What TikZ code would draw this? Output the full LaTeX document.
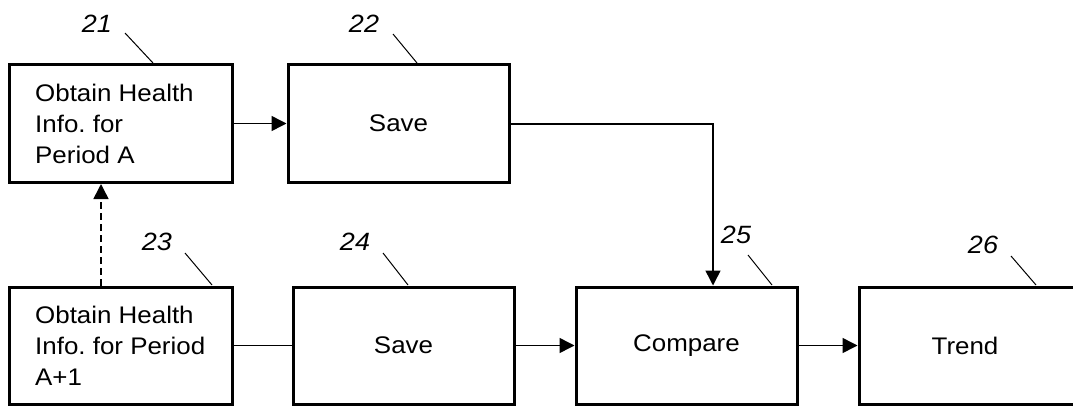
\documentclass[tikz,border=0pt]{standalone}
\usepackage{fontspec}
\setmainfont{Liberation Sans}[FakeStretch=1.08]
\usetikzlibrary{arrows.meta}
\frenchspacing
\begin{document}
\begin{tikzpicture}[x=1pt,y=-1pt,
  txt/.style={font=\fontsize{24}{31}\selectfont,inner sep=0pt},
  boxnode/.style={draw,line width=3pt,inner sep=0pt,minimum height=118pt,txt},
  blocktext/.style={txt,anchor=west,align=left},
  numlabel/.style={font=\fontsize{25}{25}\selectfont\itshape,inner sep=0pt},
  leader/.style={line width=1pt},
  conn/.style={line width=1.5pt},
  arr/.style={conn,-{Triangle[length=15pt,width=15pt]}}]
\clip (0,0) rectangle (1073,407);
\node[boxnode,minimum width=223pt] (b21) at (120.5,123.5) {};
\node[blocktext] (t21) at (35,124) {Obtain Health\\Info. for\\Period A};
\node[boxnode,minimum width=221pt] (b22) at (398.5,123.5) {Save};
\node[boxnode,minimum width=223pt,minimum height=117pt] (b23) at (120.5,345.5) {};
\node[blocktext] (t23) at (35,346) {Obtain Health\\Info. for Period\\A+1};
\node[boxnode,minimum width=221pt,minimum height=117pt] (b24) at (403.5,345.5) {Save};
\node[boxnode,minimum width=221pt,minimum height=117pt] (b25) at (686.5,345.5) {Compare};
\node[boxnode,minimum width=230pt,minimum height=117pt] (b26) at (974,345.5) {};
\node[txt] (t26) at (965,345.5) {Trend};
% number labels
\node[numlabel] (n21) at (97,24) {21};
\node[numlabel] (n22) at (364,24) {22};
\node[numlabel] (n23) at (157,242) {23};
\node[numlabel] (n24) at (355,242) {24};
\node[numlabel] (n25) at (736,235) {25};
\node[numlabel] (n26) at (983,245) {26};
\coordinate (l21a) at (125,33); \coordinate (l21b) at (153,63);
\coordinate (l22a) at (393,34); \coordinate (l22b) at (417,63);
\coordinate (l23a) at (185,253); \coordinate (l23b) at (212,285);
\coordinate (l24a) at (383,253); \coordinate (l24b) at (408,285);
\coordinate (l25a) at (748,255); \coordinate (l25b) at (772,285);
\coordinate (l26a) at (1011,256); \coordinate (l26b) at (1036,285);
\draw[leader] (l21a) -- (l21b);
\draw[leader] (l22a) -- (l22b);
\draw[leader] (l23a) -- (l23b);
\draw[leader] (l24a) -- (l24b);
\draw[leader] (l25a) -- (l25b);
\draw[leader] (l26a) -- (l26b);
% connectors
\draw[arr] (b21.east) -- (b22.west);
\draw[arr,dash pattern=on 7pt off 4pt] (b23.north -| 101,0) -- (b21.south -| 101,0);
\draw[conn] (b23.east) -- (b24.west);
\draw[arr] (b24.east) -- (b25.west);
\draw[arr] (b25.east) -- (b26.west);
\coordinate (corner) at (713,124);
\draw[arr] (b22.east |- corner) -- (corner) -- (corner |- b25.north);
\end{tikzpicture}
\end{document}
